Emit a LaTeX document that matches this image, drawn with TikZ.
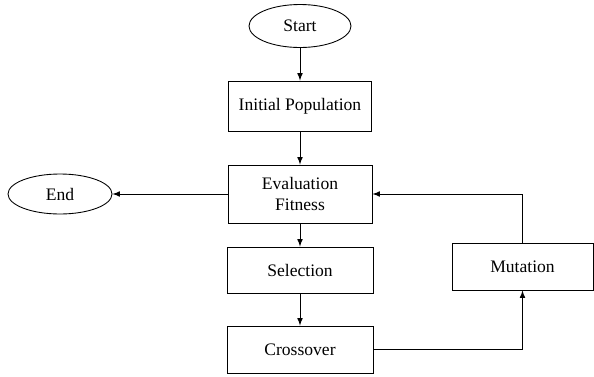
\documentclass[tikz,border=0pt]{standalone}
\usepackage{fontspec}
\setmainfont{Liberation Serif}
\usetikzlibrary{arrows,shapes.geometric}

\begin{document}
\begin{tikzpicture}[line width=0.5pt,>=latex,
  term/.style={draw,ellipse,inner sep=0pt},
  stage/.style={draw,rectangle,align=center,inner sep=0pt}]
\useasboundingbox (0,0) rectangle (11.88,7.52);
\node[term,minimum width=2.04cm,minimum height=0.86cm](start)at(6,7.00){Start};
\node[stage,minimum width=2.86cm,minimum height=1cm](init)at(6,5.40){Initial Population};
\node[stage,minimum width=2.88cm,minimum height=1.16cm](eval)at(6,3.64){Evaluation\\Fitness};
\node[stage,minimum width=2.92cm,minimum height=0.92cm](sel)at(6,2.12){Selection};
\node[stage,minimum width=2.92cm,minimum height=0.94cm](cross)at(6,0.53){Crossover};
\node[stage,minimum width=2.82cm,minimum height=0.94cm](mut)at(10.45,2.19){Mutation};
\node[term,minimum width=2.08cm,minimum height=0.8cm](end)at(1.2,3.64){End};
\draw[->](start)--(init);
\draw[->](init)--(eval);
\draw[->](eval)--(sel);
\draw[->](sel)--(cross);
\draw[->](eval.west)--(end.east);
\draw[->](cross.east)-|(mut.south);
\draw[->](mut.north)|-(eval.east);
\end{tikzpicture}
\end{document}
